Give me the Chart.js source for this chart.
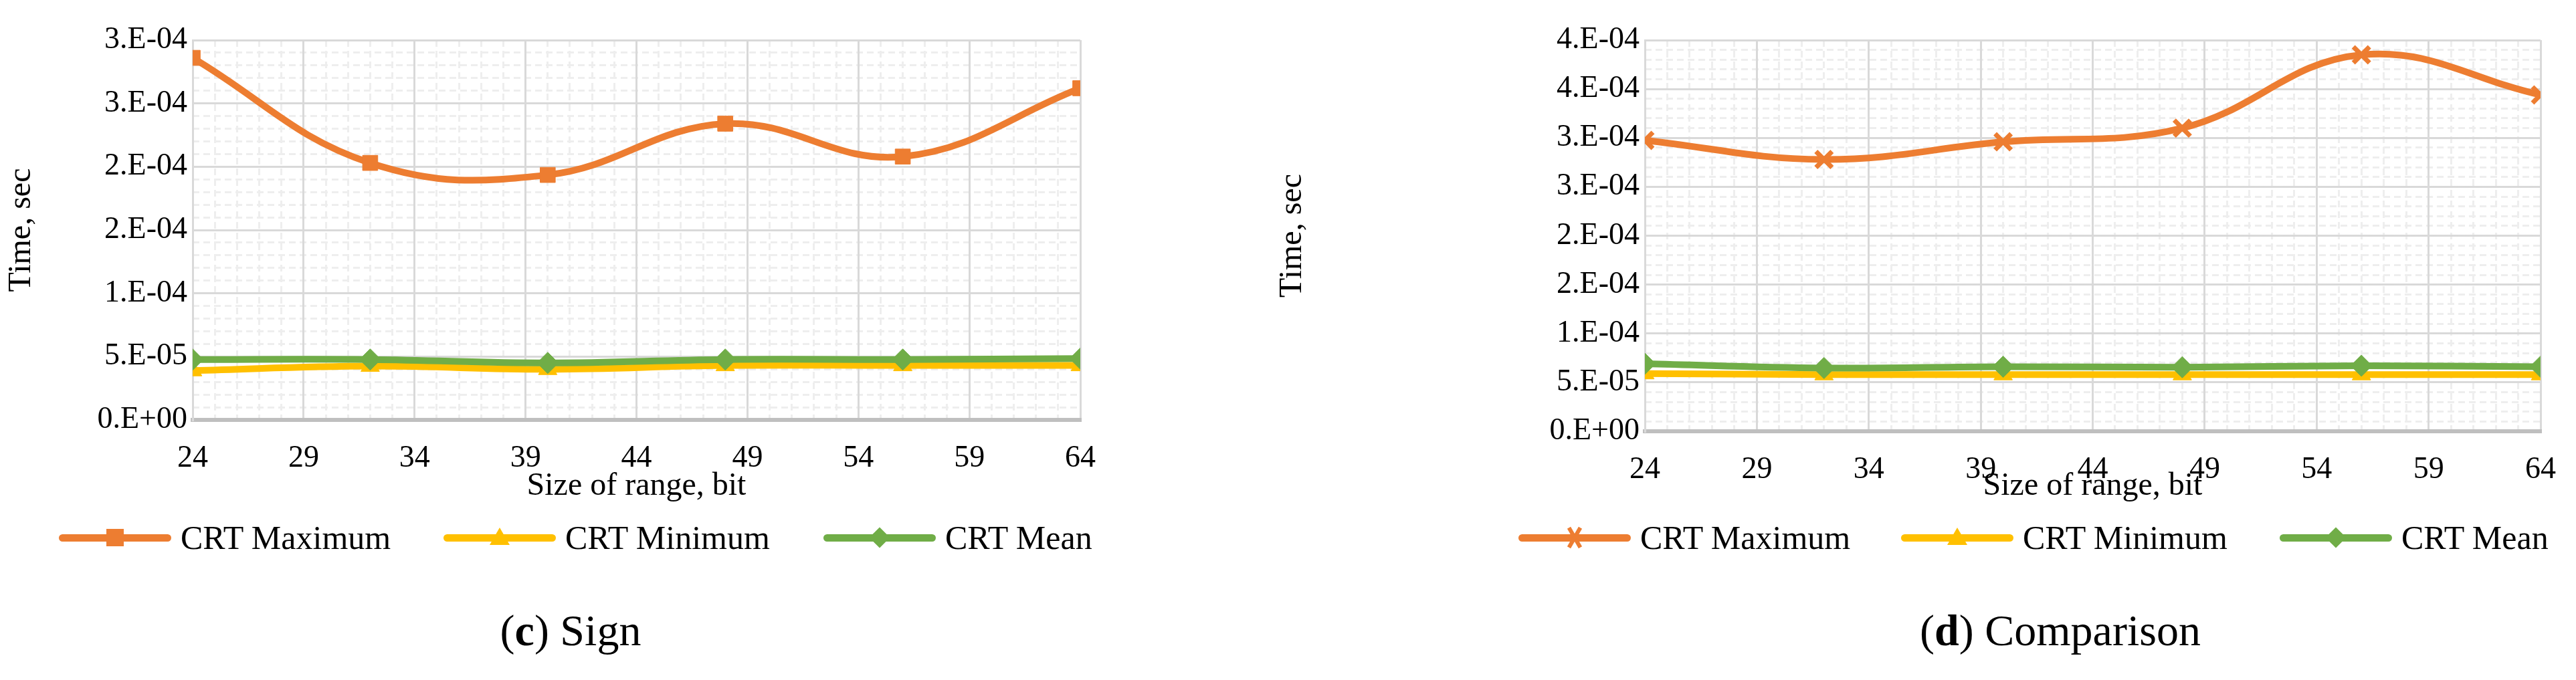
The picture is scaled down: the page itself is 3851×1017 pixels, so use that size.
<!DOCTYPE html>
<html><head><meta charset="utf-8">
<script src="https://cdn.jsdelivr.net/npm/chart.js@4"></script>
<style>
body{margin:0;background:#fff;width:3851px;height:1017px;position:relative;overflow:hidden;font-family:'Liberation Serif','Times New Roman','DejaVu Serif',serif;}
canvas{position:absolute;}
.leg{position:absolute;font-size:50px;color:#000;white-space:nowrap;display:flex;align-items:center;}
.leg span.l{display:inline-block;width:168px;height:11px;border-radius:6px;margin-right:14px;position:relative;}
.m{position:absolute;left:84px;top:5px;}
.sq{width:26px;height:26px;margin:-13px 0 0 -13px;}
.di{width:22px;height:22px;margin:-11px 0 0 -11px;transform:rotate(45deg);}
.tr{width:0;height:0;border-left:15px solid transparent;border-right:15px solid transparent;border-bottom:26px solid #FFC000;margin:-15px 0 0 -15px;}
.x1,.x2{width:34px;height:6px;margin:-3px 0 0 -17px;background:#ED7D31;}
.x1{transform:rotate(60deg);} .x2{transform:rotate(-60deg);}
.cap{position:absolute;font-size:66px;color:#000;white-space:nowrap;transform:translateX(-50%);}
</style></head><body>
<canvas id="c1" style="left:0;top:0"></canvas>
<canvas id="c2" style="left:1900px;top:0"></canvas>
<div class="leg" style="left:88px;top:775px"><span class="l" style="background:#ED7D31"><i class="m sq" style="background:#ED7D31"></i></span>CRT Maximum</div>
<div class="leg" style="left:663px;top:775px"><span class="l" style="background:#FFC000"><i class="m tr"></i></span>CRT Minimum</div>
<div class="leg" style="left:1231px;top:775px"><span class="l" style="background:#70AD47"><i class="m di" style="background:#70AD47"></i></span>CRT Mean</div>
<div class="leg" style="left:2270px;top:775px"><span class="l" style="background:#ED7D31"><i class="m x1"></i><i class="m x2"></i></span>CRT Maximum</div>
<div class="leg" style="left:2842px;top:775px"><span class="l" style="background:#FFC000"><i class="m tr"></i></span>CRT Minimum</div>
<div class="leg" style="left:3408px;top:775px"><span class="l" style="background:#70AD47"><i class="m di" style="background:#70AD47"></i></span>CRT Mean</div>
<div class="cap" style="left:853px;top:905px">(<b>c</b>) Sign</div>
<div class="cap" style="left:3080px;top:905px">(<b>d</b>) Comparison</div>
<script>
const bits = [24, 32, 40, 48, 56, 64];
const xTicks = [24, 29, 34, 39, 44, 49, 54, 59, 64];
// (c) Sign
const signMax  = [2.86e-4, 2.03e-4, 1.935e-4, 2.34e-4, 2.08e-4, 2.62e-4];
const signMin  = [3.9e-5, 4.25e-5, 4.0e-5, 4.3e-5, 4.3e-5, 4.3e-5];
const signMean = [4.77e-5, 4.77e-5, 4.5e-5, 4.77e-5, 4.77e-5, 4.84e-5];
const signYLabels = ["0.E+00","5.E-05","1.E-04","2.E-04","2.E-04","3.E-04","3.E-04"];
// (d) Comparison
const cmpMax  = [2.975e-4, 2.78e-4, 2.96e-4, 3.1e-4, 3.85e-4, 3.44e-4];
const cmpMin  = [5.9e-5, 5.8e-5, 5.8e-5, 5.8e-5, 5.8e-5, 5.8e-5];
const cmpMean = [6.9e-5, 6.47e-5, 6.6e-5, 6.55e-5, 6.7e-5, 6.6e-5];
const cmpYLabels = ["0.E+00","5.E-05","1.E-04","2.E-04","2.E-04","3.E-04","3.E-04","4.E-04","4.E-04"];

const FAM = "'Liberation Serif','Times New Roman','DejaVu Serif',serif";
const FONT = {family:FAM, size:46};
function ds(label, vals, color, marker, order){
  return {label, data: bits.map((b,i)=>({x:b,y:vals[i]})), borderColor:color, backgroundColor:color,
    borderWidth:10, tension:0.4, pointStyle:marker, pointRadius:marker==='crossRot'?17:16,
    pointBorderWidth:marker==='crossRot'?7:1, pointBackgroundColor:color, pointBorderColor:color, order};
}
function make(id, w, h, yAxisW, padR, maxMarker, mx, mn, me, ymax, ylabels){
  const cv=document.getElementById(id); cv.width=w; cv.height=h; cv.style.width=w+'px'; cv.style.height=h+'px';
  new Chart(cv,{type:'line',
    data:{datasets:[ds('CRT Maximum',mx,'#ED7D31',maxMarker,2),ds('CRT Minimum',mn,'#FFC000','triangle',1),ds('CRT Mean',me,'#70AD47','rectRot',0)]},
    options:{responsive:false,animation:false,devicePixelRatio:1,
      layout:{padding:{top:60,right:padR,left:0,bottom:0}},
      plugins:{legend:{display:false},tooltip:{enabled:false}},
      scales:{
        x2:{type:'linear',min:24,max:64,position:'bottom',ticks:{display:false,stepSize:1},
          grid:{color:'#eeeeee',lineWidth:3,drawTicks:false},border:{display:false,dash:[10,6]},afterFit:s=>{s.height=0;}},
        y2:{type:'linear',min:0,max:ymax,position:'left',ticks:{display:false,stepSize:1e-5},
          grid:{color:'#eeeeee',lineWidth:3,drawTicks:false},border:{display:false,dash:[10,6]},afterFit:s=>{s.width=0;}},
        x:{type:'linear',min:24,max:64,afterBuildTicks:s=>{s.ticks=xTicks.map(v=>({value:v}));},
          ticks:{color:'#000',font:FONT,padding:30,maxRotation:0},
          grid:{color:'#d9d9d9',lineWidth:3,drawTicks:false},border:{color:'#bfbfbf',width:6},
          title:{display:true,text:'Size of range, bit',color:'#000',font:{family:FAM,size:48},padding:{top:0}},
          afterFit:s=>{s.height=h-60-(id==='c1'?568:585);}},
        y:{type:'linear',min:0,max:ymax,ticks:{stepSize:5e-5,color:'#000',font:FONT,padding:8,
            callback:(v,i)=>ylabels[i]},
          grid:{color:'#d9d9d9',lineWidth:3,drawTicks:false},border:{color:'#d9d9d9',width:3},
          title:{display:true,text:'Time, sec',color:'#000',font:{family:FAM,size:48},padding:{bottom:4}},
          afterFit:s=>{s.width=yAxisW;}}
      }}});
}
make('c1',1750,760,288,135,'rect',signMax,signMin,signMean,3e-4,signYLabels);
make('c2',1951,760,559,50,'crossRot',cmpMax,cmpMin,cmpMean,4e-4,cmpYLabels);
</script></body></html>
